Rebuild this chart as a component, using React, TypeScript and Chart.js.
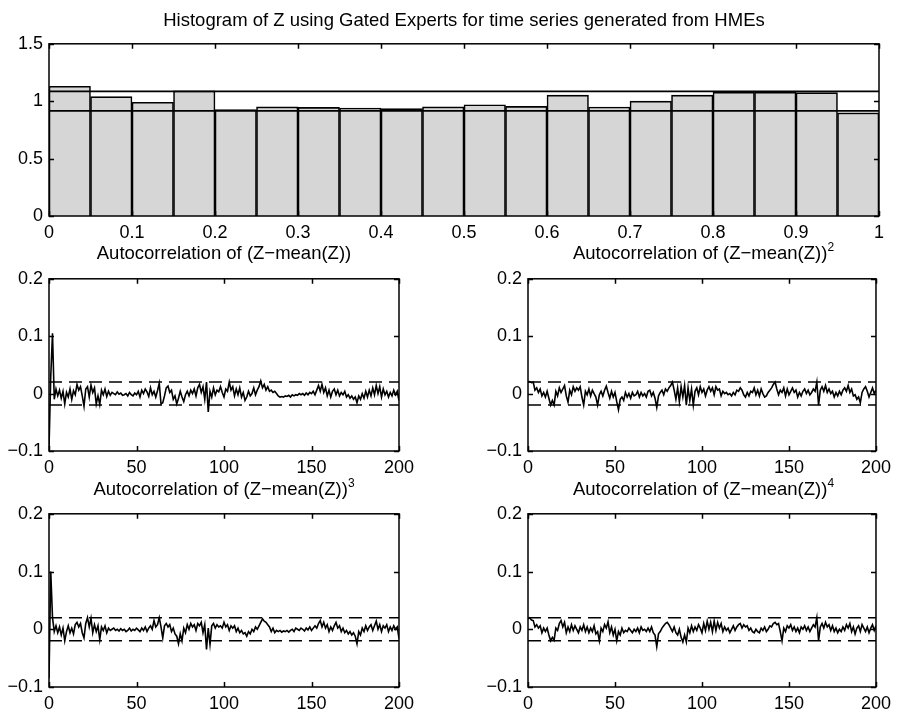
import React, { useEffect, useRef } from "react";
import { Chart, registerables } from "chart.js";

Chart.register(...registerables);

const FONT = "'Liberation Sans', Arial, Helvetica, sans-serif";

// ---------------- Histogram data ----------------
const histBinCenters = [
  0.025, 0.075, 0.125, 0.175, 0.225, 0.275, 0.325, 0.375, 0.425, 0.475,
  0.525, 0.575, 0.625, 0.675, 0.725, 0.775, 0.825, 0.875, 0.925, 0.975,
];
const histDensity = [
  1.13, 1.04, 0.99, 1.09, 0.926, 0.95, 0.946, 0.94, 0.935, 0.95,
  0.969, 0.955, 1.053, 0.949, 1.0, 1.053, 1.079, 1.079, 1.074, 0.898,
];
const histBounds = [0.915, 1.085];
const histXRange = [0, 1];
const histYRange = [0, 1.5];
const histXTicks = [0, 0.1, 0.2, 0.3, 0.4, 0.5, 0.6, 0.7, 0.8, 0.9, 1];
const histYTicks = [0, 0.5, 1, 1.5];

// ---------------- Autocorrelation data (lags 0..200) ----------------
const lagRange = [0, 200];
const acfYRange = [-0.1, 0.2];
const acfXTicks = [0, 50, 100, 150, 200];
const acfYTicks = [-0.1, 0, 0.1, 0.2];
const acfBand = [-0.02, 0.02];

const acf1 = [
  -0.095, 0.03, 0.105, -0.01, 0.008, -0.004, 0.006, -0.008, 0.004, -0.018,
  0.002, -0.006, 0.008, -0.01, 0.005, -0.002, 0.016, 0.006, 0.012, -0.004,
  -0.022, 0.008, 0.012, -0.006, 0.015, 0.002, 0.01, -0.018, -0.004, -0.019,
  0.006, -0.002, 0.008, -0.005, 0.004, -0.003, 0.002, 0.0, -0.002, 0.003,
  -0.001, 0.001, -0.003, -0.002, 0.0, -0.004, 0.002, -0.002, -0.004, 0.001,
  -0.002, 0.004, -0.006, 0.006, 0.0, 0.008, 0.003, -0.005, 0.01, -0.002,
  0.004, -0.006, 0.005, 0.018, -0.018, -0.016, -0.004, 0.01, 0.013, 0.002,
  0.006, -0.01, -0.004, -0.018, -0.008, 0.004, -0.006, -0.014, -0.002, 0.004,
  -0.004, 0.006, 0.0, 0.008, -0.004, 0.01, 0.016, 0.002, 0.012, -0.01,
  0.02, -0.032, 0.004, -0.006, 0.01, -0.002, 0.006, 0.003, 0.012, 0.002,
  -0.006, 0.008, 0.004, 0.02, 0.006, 0.012, -0.004, 0.008, -0.002, 0.01,
  -0.006, 0.002, -0.012, -0.006, 0.004, -0.004, 0.0, 0.01, -0.002, 0.006,
  0.012, 0.022, 0.01, 0.016, 0.006, 0.012, 0.004, 0.006, 0.002, 0.004,
  0.0, -0.004, -0.006, -0.005, -0.006, -0.004, -0.005, -0.003, -0.006, -0.002,
  -0.004, -0.002, -0.003, 0.0, -0.002, 0.0, -0.003, 0.001, -0.002, 0.002,
  0.0, 0.004, -0.002, 0.006, 0.014, 0.004, 0.016, 0.002, 0.01, -0.004,
  0.006, -0.006, 0.004, 0.008, -0.002, 0.006, -0.004, 0.002, -0.002, 0.004,
  -0.006, -0.002, -0.008, -0.004, -0.01, -0.006, -0.016, -0.004, -0.01, 0.0,
  -0.008, 0.004, -0.006, 0.006, -0.004, 0.01, -0.002, 0.014, 0.0, 0.012,
  -0.006, 0.008, -0.002, 0.004, -0.006, 0.002, -0.004, 0.006, -0.002, 0.004,
  -0.012,
];

const acf2 = [
  0.02, 0.021, 0.019, 0.02, 0.006, 0.01, 0.002, 0.008, -0.004, 0.002,
  -0.006, 0.004, -0.008, -0.02, -0.012, -0.02, 0.004, -0.004, 0.01, 0.002,
  0.008, 0.014, -0.004, -0.015, 0.006, -0.002, 0.012, 0.004, 0.01, 0.006,
  0.012, -0.006, -0.02, 0.004, -0.002, 0.008, -0.004, 0.006, 0.0, -0.006,
  -0.02, -0.002, 0.004, -0.004, 0.006, 0.013, 0.002, -0.008, 0.004, -0.006,
  0.002, -0.014, -0.028, -0.01, -0.006, -0.012, 0.002, -0.006, 0.0, -0.008,
  0.002, -0.004, -0.002, 0.004, -0.006, 0.002, -0.004, 0.0, -0.006, 0.004,
  0.006, -0.004, 0.002, -0.008, -0.024, -0.004, 0.002, 0.006, -0.002, 0.008,
  0.004, 0.01, 0.014, 0.02, 0.006, -0.01, 0.01, -0.014, 0.012, -0.006,
  0.014, -0.02, 0.01, -0.012, 0.008, -0.02, 0.004, 0.01, -0.002, 0.012,
  0.002, 0.008, -0.004, 0.006, 0.012, 0.004, 0.01, -0.002, 0.012, 0.006,
  0.008, -0.004, 0.004, 0.0, 0.002, -0.002, 0.0, -0.004, 0.002, -0.002,
  0.006, 0.004, 0.01, 0.006, -0.002, -0.006, 0.002, -0.004, 0.004, 0.002,
  0.01, -0.002, 0.006, -0.004, 0.008, 0.0, -0.006, -0.004, 0.002, 0.006,
  0.01, 0.016, 0.02, 0.008, -0.002, 0.006, 0.002, 0.01, -0.004, 0.008,
  -0.002, 0.004, 0.01, 0.002, 0.006, -0.006, 0.002, -0.004, 0.004, 0.008,
  0.0, 0.006, -0.002, 0.002, 0.008, 0.004, 0.02, -0.02, 0.006, 0.012,
  0.004, 0.014, 0.002, 0.008, 0.0, 0.004, -0.006, 0.002, -0.004, 0.004,
  -0.002, 0.006, 0.01, 0.004, 0.014, 0.002, 0.008, -0.004, -0.002, -0.01,
  -0.006, -0.016, 0.002, 0.008, 0.012, 0.004, -0.006, 0.002, 0.01, 0.0,
  0.006,
];

const acf3 = [
  -0.085, 0.1, 0.02, -0.004, 0.006, -0.006, 0.004, -0.01, 0.002, -0.02,
  -0.004, 0.006, -0.006, 0.002, -0.008, 0.008, 0.012, 0.004, 0.01, -0.006,
  -0.015, 0.01, 0.02, 0.004, 0.019, -0.006, 0.008, -0.004, 0.006, -0.018,
  0.004, -0.002, 0.006, -0.006, 0.002, -0.002, 0.0, 0.002, -0.002, 0.0,
  -0.003, 0.001, -0.002, 0.0, -0.004, -0.002, 0.002, -0.003, 0.0, -0.002,
  0.002, -0.001, -0.004, 0.002, -0.002, 0.004, -0.004, 0.002, 0.006, 0.0,
  0.015, 0.004, 0.008, 0.02, 0.004, -0.015, 0.006, 0.01, 0.004, 0.008,
  -0.004, 0.002, -0.008, -0.012, -0.025, -0.008, -0.02, 0.002, -0.006, 0.008,
  0.0, 0.01, 0.004, 0.008, -0.002, 0.01, 0.006, 0.012, -0.006, 0.008,
  -0.035, 0.002, -0.026, 0.006, 0.01, 0.002, 0.008, 0.004, 0.006, 0.002,
  0.012, 0.004, 0.008, -0.002, 0.006, 0.002, 0.006, -0.004, 0.002, -0.006,
  -0.002, -0.008, -0.006, -0.012, -0.004, -0.008, 0.0, -0.004, 0.004, 0.0,
  0.006, 0.012, 0.018, 0.014, 0.012, 0.008, 0.004, -0.004, 0.002, -0.006,
  -0.002, -0.004, -0.002, -0.005, -0.003, -0.004, -0.002, -0.005, -0.002, 0.0,
  -0.004, 0.002, 0.0, -0.002, 0.002, 0.0, -0.003, 0.002, -0.001, 0.004,
  -0.002, 0.002, 0.006, 0.002, 0.01, 0.015, 0.004, 0.012, 0.002, 0.008,
  -0.004, 0.004, -0.002, 0.006, 0.012, 0.002, 0.006, -0.004, 0.002, -0.006,
  -0.002, -0.008, -0.004, -0.01, -0.006, -0.012, -0.025, -0.004, -0.01, 0.002,
  -0.004, 0.006, -0.002, 0.004, 0.008, -0.002, 0.006, 0.014, 0.0, 0.008,
  -0.004, 0.006, 0.002, 0.008, -0.004, 0.004, -0.002, 0.006, 0.0, 0.004,
  -0.016,
];

const acf4 = [
  0.018, 0.02, 0.016, 0.015, 0.004, 0.008, 0.002, 0.006, -0.006, 0.002,
  -0.004, 0.002, -0.01, -0.02, -0.014, -0.019, 0.002, -0.002, 0.01, 0.015,
  0.004, 0.012, -0.006, 0.004, -0.004, 0.008, -0.002, 0.006, 0.0, -0.006,
  0.004, -0.002, 0.008, -0.004, 0.004, -0.006, 0.002, -0.004, 0.006, -0.008,
  -0.004, -0.02, 0.002, -0.004, 0.008, 0.002, 0.013, -0.006, 0.004, -0.01,
  0.0, -0.02, -0.004, -0.01, 0.002, -0.006, -0.002, -0.004, 0.002, -0.002,
  -0.006, 0.0, -0.004, 0.002, -0.006, 0.004, -0.002, 0.0, -0.004, 0.002,
  -0.004, 0.004, -0.006, -0.01, -0.03, -0.008, -0.004, 0.002, 0.006, 0.01,
  0.012, 0.008, 0.002, -0.004, 0.004, -0.006, -0.01, 0.0, -0.014, -0.022,
  -0.01, -0.022, 0.002, -0.006, 0.006, -0.004, 0.004, -0.002, 0.008, 0.002,
  -0.006, 0.01, -0.002, 0.014, 0.0, 0.012, -0.004, 0.014, -0.002, 0.012,
  0.002, 0.01, -0.004, 0.004, -0.002, 0.002, -0.006, 0.0, 0.006, -0.002,
  0.004, 0.008, 0.01, 0.002, 0.008, 0.004, 0.006, -0.002, 0.002, -0.004,
  -0.006, 0.0, -0.004, -0.006, 0.002, -0.002, 0.004, -0.004, 0.0, 0.006,
  0.004, 0.01, 0.012, 0.008, 0.01, -0.004, -0.02, 0.002, -0.004, 0.006,
  0.002, 0.008, -0.002, 0.004, -0.004, 0.002, -0.006, 0.004, 0.0, 0.006,
  -0.002, 0.004, -0.004, 0.002, 0.008, 0.004, 0.02, -0.02, 0.004, 0.01,
  0.002, 0.012, 0.004, 0.008, -0.002, 0.006, -0.004, 0.002, -0.006, 0.0,
  -0.004, 0.004, -0.002, 0.008, 0.002, 0.01, -0.004, 0.004, -0.008, 0.002,
  0.006, -0.004, 0.008, 0.002, -0.004, 0.004, -0.006, 0.002, 0.008, -0.002,
  0.006,
];

// ---------------- helpers ----------------
const fmt = (v: number) => (v < 0 ? "\u2212" + String(-v) : String(v));

const framePlugin = {
  id: "matlabFrame",
  afterDatasetsDraw(chart: any) {
    const { ctx, chartArea: a, scales } = chart;
    const L = 5;
    ctx.save();
    ctx.strokeStyle = "#000";
    ctx.lineWidth = 1.5;
    ctx.strokeRect(a.left, a.top, a.right - a.left, a.bottom - a.top);
    ctx.beginPath();
    scales.x.ticks.forEach((t: any) => {
      const px = Math.round(scales.x.getPixelForValue(t.value)) + 0.5;
      ctx.moveTo(px, a.bottom);
      ctx.lineTo(px, a.bottom - L);
      ctx.moveTo(px, a.top);
      ctx.lineTo(px, a.top + L);
    });
    scales.y.ticks.forEach((t: any) => {
      const py = Math.round(scales.y.getPixelForValue(t.value)) + 0.5;
      ctx.moveTo(a.left, py);
      ctx.lineTo(a.left + L, py);
      ctx.moveTo(a.right, py);
      ctx.lineTo(a.right - L, py);
    });
    ctx.stroke();
    ctx.restore();
  },
};

function axis(ticks: number[], range: number[], size: number, isY: boolean) {
  return {
    type: "linear",
    min: range[0],
    max: range[1],
    offset: false,
    grid: { display: false, drawTicks: false },
    border: { display: false },
    ticks: {
      color: "#000",
      font: { family: FONT, size: 18 },
      padding: 6,
      autoSkip: false,
      maxRotation: 0,
      minRotation: 0,
      callback: (v: number) => fmt(v),
    },
    afterBuildTicks: (s: any) => {
      s.ticks = ticks.map((v) => ({ value: v }));
    },
    afterFit: (s: any) => {
      if (isY) s.width = size;
      else s.height = size;
    },
  };
}

function baseOptions(padding: any, xAxis: any, yAxis: any) {
  return {
    responsive: false,
    animation: false,
    devicePixelRatio: 1,
    layout: { padding },
    plugins: {
      legend: { display: false },
      title: { display: false },
      tooltip: { enabled: false },
    },
    scales: { x: xAxis, y: yAxis },
  };
}

function histConfig() {
  return {
    type: "bar",
    data: {
      datasets: [
        {
          type: "line",
          data: histXRange.map((x) => ({ x, y: histBounds[1] })),
          borderColor: "#000",
          borderWidth: 1.8,
          pointRadius: 0,
          order: 0,
        },
        {
          type: "line",
          data: histXRange.map((x) => ({ x, y: histBounds[0] })),
          borderColor: "#000",
          borderWidth: 1.8,
          pointRadius: 0,
          order: 0,
        },
        {
          type: "bar",
          data: histBinCenters.map((x, i) => ({ x, y: histDensity[i] })),
          backgroundColor: "#d6d6d6",
          borderColor: "#000",
          borderWidth: 1.6,
          barPercentage: 1,
          categoryPercentage: 1,
          order: 1,
        },
      ],
    },
    options: baseOptions(
      { top: 12, right: 18, left: 0, bottom: 0 },
      axis(histXTicks, histXRange, 29, false),
      axis(histYTicks, histYRange, 49, true)
    ),
    plugins: [framePlugin],
  };
}

function acfConfig(values: number[], yWidth: number, rightPad: number) {
  const band = (y: number) => ({
    type: "line",
    data: lagRange.map((x) => ({ x, y })),
    borderColor: "#000",
    borderWidth: 1.5,
    borderDash: [13, 7],
    pointRadius: 0,
  });
  return {
    type: "line",
    data: {
      datasets: [
        {
          data: values.map((y, lag) => ({ x: lag, y })),
          borderColor: "#000",
          borderWidth: 1.6,
          pointRadius: 0,
          tension: 0,
        },
        band(acfBand[1]),
        band(acfBand[0]),
      ],
    },
    options: baseOptions(
      { top: 12, right: rightPad, left: 0, bottom: 0 },
      axis(acfXTicks, lagRange, 29, false),
      axis(acfYTicks, acfYRange, yWidth, true)
    ),
    plugins: [framePlugin],
  };
}

function ChartBox(props: { left: number; top: number; width: number; height: number; build: () => any }) {
  const ref = useRef<HTMLCanvasElement>(null);
  useEffect(() => {
    const chart = new Chart(ref.current as HTMLCanvasElement, props.build());
    return () => chart.destroy();
  }, []);
  return (
    <canvas
      ref={ref}
      width={props.width}
      height={props.height}
      style={{ position: "absolute", left: props.left, top: props.top, width: props.width, height: props.height }}
    />
  );
}

const titleStyle = (left: number, top: number, width: number): React.CSSProperties => ({
  position: "absolute",
  left,
  top,
  width,
  textAlign: "center",
  fontFamily: FONT,
  fontSize: "18.5px",
  lineHeight: "22px",
  color: "#000",
  whiteSpace: "nowrap",
});

const supStyle: React.CSSProperties = { fontSize: "12px", verticalAlign: "8px", lineHeight: 0 };

export default function App() {
  return (
    <div style={{ position: "absolute", left: 0, top: 0, width: 897, height: 714, background: "#fff", overflow: "hidden" }}>
      <ChartBox left={0} top={27} width={897} height={218} build={histConfig} />
      <ChartBox left={0} top={262} width={440} height={218} build={() => acfConfig(acf1, 49, 41)} />
      <ChartBox left={440} top={262} width={457} height={218} build={() => acfConfig(acf2, 88, 18)} />
      <ChartBox left={0} top={497} width={440} height={219} build={() => acfConfig(acf3, 49, 41)} />
      <ChartBox left={440} top={497} width={457} height={219} build={() => acfConfig(acf4, 88, 18)} />

      <div style={titleStyle(49, 8.6, 830)}>Histogram of Z using Gated Experts for time series generated from HMEs</div>
      <div style={titleStyle(49, 242, 350)}>Autocorrelation of (Z{"\u2212"}mean(Z))</div>
      <div style={titleStyle(528, 242, 351)}>
        Autocorrelation of (Z{"\u2212"}mean(Z))<sup style={supStyle}>2</sup>
      </div>
      <div style={titleStyle(49, 477.6, 350)}>
        Autocorrelation of (Z{"\u2212"}mean(Z))<sup style={supStyle}>3</sup>
      </div>
      <div style={titleStyle(528, 477.6, 351)}>
        Autocorrelation of (Z{"\u2212"}mean(Z))<sup style={supStyle}>4</sup>
      </div>
    </div>
  );
}
